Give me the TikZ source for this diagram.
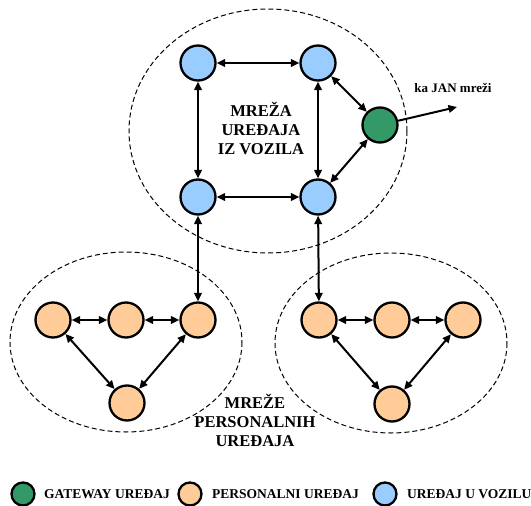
\documentclass[tikz,border=0pt]{standalone}
\usepackage{fontspec}
\setmainfont{Liberation Serif}
\usetikzlibrary{arrows.meta}
\definecolor{vblue}{HTML}{99CCFF}
\definecolor{porange}{HTML}{FFCC99}
\definecolor{ggreen}{HTML}{339966}
\tikzset{
  dev/.style={circle, draw=black, line width=2.3pt, minimum size=35pt, inner sep=0pt},
  vdev/.style={dev, fill=vblue},
  pdev/.style={dev, fill=porange},
  gdev/.style={dev, fill=ggreen},
  ldev/.style={circle, draw=black, line width=2.3pt, minimum size=23pt, inner sep=0pt},
  link/.style={line width=2pt, {Triangle[length=8.5pt,width=7.5pt]}-{Triangle[length=8.5pt,width=7.5pt]}},
  olink/.style={line width=2pt, -{Triangle[length=8.5pt,width=7.5pt]}},
  zone/.style={draw=black, line width=1pt, dash pattern=on 5pt off 3pt},
  lbl/.style={font=\bfseries\fontsize{16.5}{19}\selectfont, align=center},
  leg/.style={font=\bfseries\fontsize{13.5}{15}\selectfont, anchor=west, inner sep=0pt}
}
\begin{document}
\begin{tikzpicture}[x=1pt,y=-1pt]
\useasboundingbox (0,0) rectangle (531,506);
% zones
\draw[zone] (268,131) ellipse [x radius=139, y radius=122];
\draw[zone] (126,342) ellipse [x radius=116, y radius=90];
\draw[zone] (391,343) ellipse [x radius=116, y radius=90];
% vehicle devices
\node[vdev] (v1) at (198,63) {};
\node[vdev] (v2) at (318,63) {};
\node[vdev] (v3) at (198,197) {};
\node[vdev] (v4) at (318,197) {};
\node[gdev] (g) at (380,125) {};
\coordinate (jan) at (457,107);
% personal left
\node[pdev] (a1) at (53,320) {};
\node[pdev] (a2) at (126,320) {};
\node[pdev] (a3) at (198,320) {};
\node[pdev] (a4) at (127,403) {};
% personal right
\node[pdev] (b1) at (319,320) {};
\node[pdev] (b2) at (392,320) {};
\node[pdev] (b3) at (463,320) {};
\node[pdev] (b4) at (392,404) {};
% links
\draw[link] (v1) -- (v2);
\draw[link] (v3) -- (v4);
\draw[link] (v1) -- (v3);
\draw[link] (v2) -- (v4);
\draw[link] (v2) -- (g);
\draw[link] (g) -- (v4);
\draw[olink] (g) -- (jan);
\draw[link] (v3) -- (a3);
\draw[link] (v4) -- (b1);
\draw[link] (a1) -- (a2);
\draw[link] (a2) -- (a3);
\draw[link] (a1) -- (a4);
\draw[link] (a3) -- (a4);
\draw[link] (b1) -- (b2);
\draw[link] (b2) -- (b3);
\draw[link] (b1) -- (b4);
\draw[link] (b3) -- (b4);
% labels
\node[lbl] (t1) at (261,128) {MREŽA\\UREĐAJA\\IZ VOZILA};
\node[lbl] (t2) at (255,420) {MREŽE\\PERSONALNIH\\UREĐAJA};
\node[font=\bfseries\fontsize{13}{15}\selectfont] (t3) at (453,88) {ka JAN mreži};
% legend
\node[ldev, fill=ggreen] (lg) at (23,494) {};
\node[leg] (lgt) at (44,494) {GATEWAY UREĐAJ};
\node[ldev, fill=porange] (lp) at (190,494) {};
\node[leg] (lpt) at (212,494) {PERSONALNI UREĐAJ};
\node[ldev, fill=vblue] (lv) at (385,494) {};
\node[leg] (lvt) at (407,494) {UREĐAJ U VOZILU};
\end{tikzpicture}
\end{document}
